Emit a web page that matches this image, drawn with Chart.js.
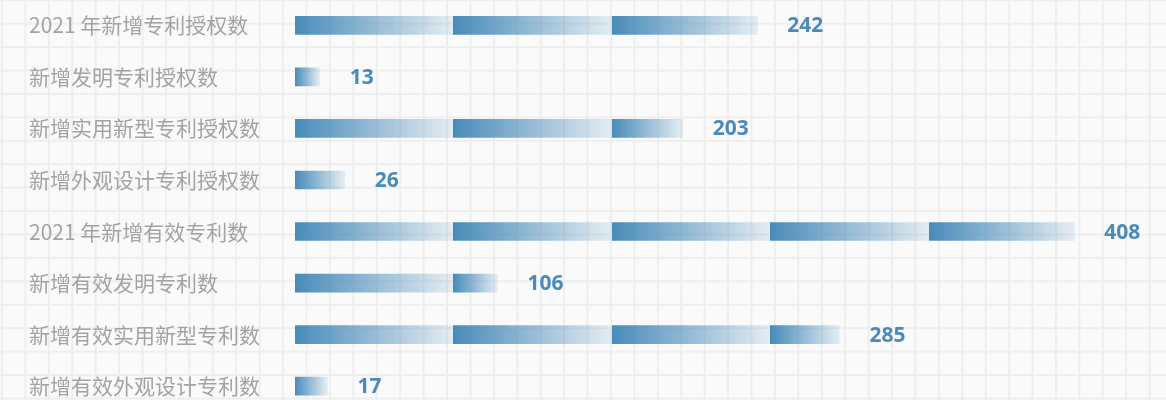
<!DOCTYPE html>
<html>
<head>
<meta charset="utf-8">
<script src="https://cdn.jsdelivr.net/npm/chart.js@4.4.1/dist/chart.umd.min.js"></script>
<style>
    html, body {
        margin: 0;
        padding: 0;
        width: 1166px;
        height: 400px;
        overflow: hidden;
        background-color: #fafafa;
        /* light grid paper behind the chart */
        background-image:
            linear-gradient(to right, #eeeeee 1.5px, transparent 1.5px),
            linear-gradient(to bottom, #eeeeee 1.5px, transparent 1.5px);
        background-size: 23.43px 23.43px;
        background-position: 1px -0.7px;
    }
    #wrap {
        position: absolute;
        left: 0;
        top: -13.5px;
        width: 1166px;
        height: 437.5px;
    }
</style>
</head>
<body>
<div id="wrap"><canvas id="patentChart"></canvas></div>
<script>
// Categories (top to bottom)
const categories = [
    '2021 年新增专利授权数',
    '新增发明专利授权数',
    '新增实用新型专利授权数',
    '新增外观设计专利授权数',
    '2021 年新增有效专利数',
    '新增有效发明专利数',
    '新增有效实用新型专利数',
    '新增有效外观设计专利数'
];

// Values shown at the end of each bar
const patentCounts = [242, 13, 203, 26, 408, 106, 285, 17];

const xMin = 0;
const xMax = 456;

const SEGMENT = 158.5; // width of one gradient block in px
const DARK = 'rgba(72, 139, 185, 1)';
const LIGHT = 'rgba(72, 139, 185, 0.12)';

// One gradient per bar: full blocks of SEGMENT px, the last block squeezed
function blockGradient(c) {
    const chart = c.chart;
    const xScale = chart.scales.x;
    if (!xScale || c.raw == null) return DARK;
    const start = xScale.getPixelForValue(0);
    const end = xScale.getPixelForValue(c.raw);
    if (!Number.isFinite(start) || !Number.isFinite(end)) return DARK;
    const len = Math.max(end - start, 1);
    const grad = chart.ctx.createLinearGradient(start, 0, start + len, 0);
    let pos = 0;
    while (pos < len) {
        const next = Math.min(pos + SEGMENT, len);
        grad.addColorStop(pos / len, DARK);
        grad.addColorStop(Math.max(next - 0.5, pos) / len, LIGHT);
        pos = next;
    }
    return grad;
}

// Draws the number to the right of every bar
const valueLabels = {
    id: 'valueLabels',
    afterDatasetsDraw(chart) {
        const ctx = chart.ctx;
        const meta = chart.getDatasetMeta(0);
        ctx.save();
        ctx.font = 'bold 21px "Noto Sans", sans-serif';
        ctx.fillStyle = '#4a8bb9';
        ctx.textAlign = 'left';
        ctx.textBaseline = 'middle';
        meta.data.forEach((bar, i) => {
            ctx.fillText(patentCounts[i], bar.x + 30, bar.y + 1);
        });
        ctx.restore();
    }
};

new Chart(document.getElementById('patentChart'), {
    type: 'bar',
    data: {
        labels: categories,
        datasets: [{
            data: patentCounts,
            backgroundColor: blockGradient,
            borderWidth: 0,
            barThickness: 18
        }]
    },
    options: {
        indexAxis: 'y',
        responsive: true,
        maintainAspectRatio: false,
        animation: false,
        layout: {
            padding: { left: 29, right: 0, top: 0, bottom: 0 }
        },
        scales: {
            x: {
                display: false,
                min: xMin,
                max: xMax
            },
            y: {
                grid: { display: false },
                border: { display: false },
                ticks: {
                    crossAlign: 'far',
                    padding: 0,
                    color: '#a3a3a3',
                    font: { family: '"Noto Sans CJK SC", sans-serif', size: 21 }
                },
                afterFit(scale) {
                    scale.width = 266; // bars begin at x = 295
                }
            }
        },
        plugins: {
            legend: { display: false },
            tooltip: { enabled: false }
        }
    },
    plugins: [valueLabels]
});
</script>
</body>
</html>
